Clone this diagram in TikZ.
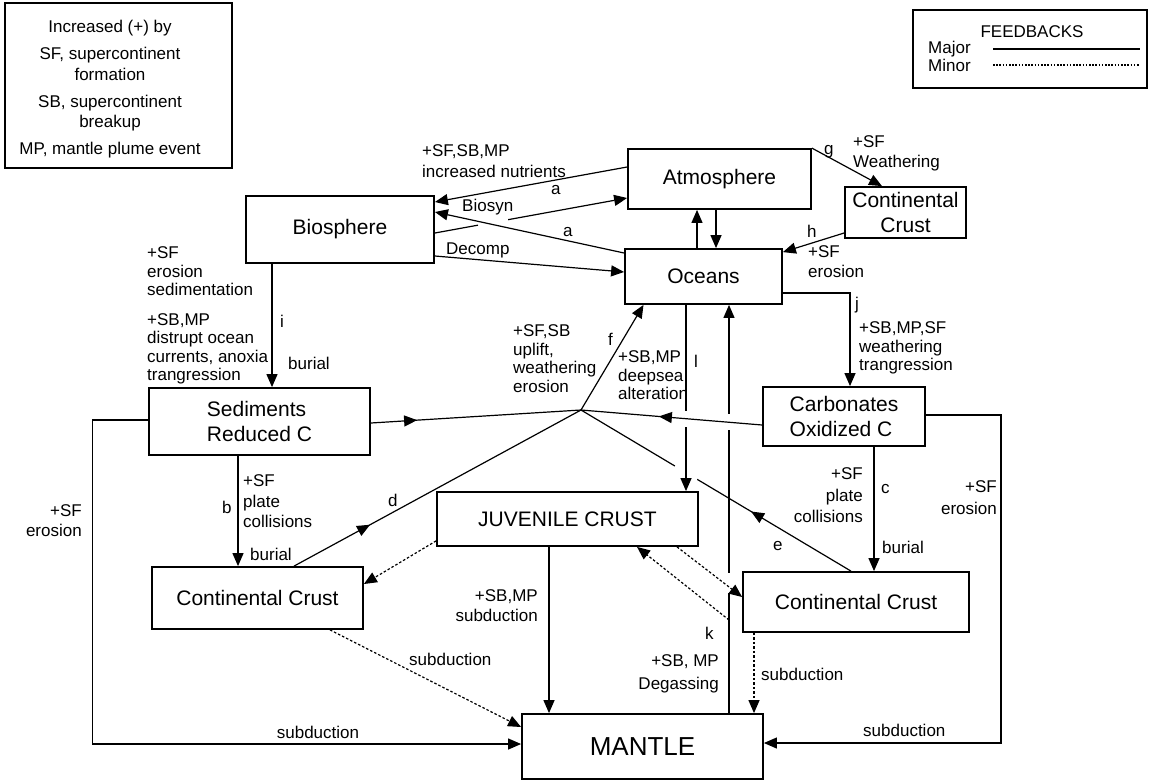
\documentclass[tikz,border=0pt]{standalone}
\usepackage{fontspec}
\setmainfont{Liberation Sans}
\usetikzlibrary{arrows.meta,decorations.markings,calc}
\begin{document}
\begin{tikzpicture}[x=1pt,y=-1pt,
  cbox/.style={draw, line width=1.8pt, inner sep=0pt, align=center, font=\fontsize{21}{25}\selectfont},
  conn/.style={line width=1.2pt, -{Triangle[length=13pt,width=11pt]}},
  majorline/.style={line width=1.2pt},
  minorline/.style={line width=1.2pt, dash pattern=on 2.5pt off 2pt},
  lbl/.style={inner sep=0pt, font=\fontsize{17}{18.5}\selectfont},
  midarrow/.style={postaction={decorate}, decoration={markings, mark=at position #1 with {\arrow{Triangle[length=13pt,width=11pt]}}}},
  gapw/.style={white, line width=4pt}
]
\useasboundingbox (0,0) rectangle (1150,782);
\fill[white] (0,0) rectangle (1150,782);

% legends
\node[draw, line width=1.6pt, minimum width=227pt, minimum height=165pt, inner sep=0pt] (legL) at (118.5,85.5) {};
\node[lbl, anchor=north, align=center, font=\fontsize{17}{20.5}\selectfont] (legLtxt) at (110,20.4)
  {Increased (+) by\\[6.5pt]SF, supercontinent\\formation\\[6.5pt]SB, supercontinent\\breakup\\[6.5pt]MP, mantle plume event};

\node[draw, line width=1.6pt, minimum width=234pt, minimum height=78pt, inner sep=0pt] (legR) at (1030,49) {};
\node[lbl, anchor=base] (fb) at (1032,37) {FEEDBACKS};
\node[lbl, anchor=base west] (maj) at (928,53) {Major};
\node[lbl, anchor=base west] (mnr) at (928,71) {Minor};
\coordinate (maj1) at (993,49); \coordinate (maj2) at (1140,49);
\coordinate (mnr1) at (993,65); \coordinate (mnr2) at (1140,65);
\draw[majorline] (maj1) -- (maj2);
\draw[line width=1.2pt, dash pattern=on 1.6pt off 1.6pt] (mnr1) -- (mnr2);

% boxes
\node[cbox, minimum width=183pt, minimum height=60pt] (atm) at (719.5,179) {Atmosphere};
\node[cbox, minimum width=157pt, minimum height=55pt] (oce) at (703.5,276.5) {Oceans};
\node[cbox, minimum width=121pt, minimum height=51pt] (cc0) at (905.5,212.5) {Continental\\Crust};
\node[cbox, minimum width=188pt, minimum height=67pt] (bio) at (340,229.5) {Biosphere};
\node[cbox, minimum width=221pt, minimum height=67pt, align=left] (sed) at (259.5,421.5) {Sediments\\Reduced C};
\node[cbox, minimum width=162pt, minimum height=59pt, align=left] (carb) at (844,416.5) {Carbonates\\Oxidized C};
\node[cbox, minimum width=211pt, minimum height=62pt] (ccl) at (257.5,598) {Continental Crust};
\node[cbox, minimum width=261pt, minimum height=54pt] (juv) at (567.5,519) {JUVENILE CRUST};
\node[cbox, minimum width=226pt, minimum height=60pt] (ccr) at (856,602) {Continental Crust};
\node[cbox, minimum width=241pt, minimum height=65pt, font=\fontsize{26}{30}\selectfont] (man) at (642.5,746.5) {MANTLE};
\coordinate (C) at (581,410);
\coordinate (kdeg) at (729,620);

% top connectors
\draw[conn] ([yshift=12pt]atm.west) -- ([yshift=27.5pt]bio.east);
\draw[conn] ([yshift=-3.5pt]bio.east) coordinate (bs1) -- ([yshift=-19pt]atm.west) coordinate (bs2);
\draw[gapw] ($(bs1)!0.225!(bs2)$) -- ($(bs1)!0.38!(bs2)$);
\draw[conn] ([yshift=23.5pt]oce.west) -- ([yshift=17.5pt]bio.east);
\draw[conn] ([yshift=-26.5pt]bio.east) -- ([yshift=4.5pt]oce.west);
\draw[conn] ([xshift=-6.5pt]oce.north) -- ([xshift=-22.5pt]atm.south);
\draw[conn] ([xshift=-3.5pt]atm.south) -- ([xshift=12.5pt]oce.north);
\draw[conn] (atm.north east) -- ([xshift=-23.5pt]cc0.north);
\draw[conn] ([yshift=-20.5pt]cc0.west) -- ([yshift=-4pt]oce.north east);
\draw[conn] ([yshift=-16.5pt]oce.east) -| ([xshift=6pt]carb.north);

% central star
\draw[majorline, midarrow=0.37] ([xshift=-5pt]ccr.north) coordinate (e1) -- (C);
\draw[gapw] ($(e1)!0.57!(C)$) -- ($(e1)!0.652!(C)$);
\draw[conn] ([xshift=-17.5pt]oce.south) coordinate (l1) -- ([xshift=118.5pt]juv.north) coordinate (l2);
\draw[gapw] ($(l1)!0.569!(l2)$) -- ($(l1)!0.654!(l2)$);
\draw[conn] ([xshift=86.5pt]man.north) coordinate (k1) -- (k1 |- oce.south) coordinate (k2);
\draw[gapw] ($(k1)!0.693!(k2)$) -- ($(k1)!0.732!(k2)$);
\draw[gapw] ($(k1)!0.295!(k2)$) -- ($(k1)!0.344!(k2)$);
\draw[majorline, midarrow=0.57] ([yshift=-8.5pt]carb.west) -- (C);
\draw[majorline, midarrow=0.22] ([yshift=-1.5pt]sed.east) -- (C);
\draw[conn] (C) -- ([xshift=-60pt]oce.south);
\draw[majorline, midarrow=0.265] ([xshift=36.5pt]ccl.north) -- (C);

% verticals
\draw[conn] ([xshift=-68pt]bio.south) coordinate (i1) -- (i1 |- sed.north);
\draw[conn] ([xshift=-21.5pt]sed.south) coordinate (b1) -- (b1 |- ccl.north);
\draw[conn] ([xshift=30pt]carb.south) coordinate (c1) -- (c1 |- ccr.north);
\draw[conn] ([yshift=1.5pt]sed.west) -- ++(-56,0) |- ([yshift=2.5pt]man.west);
\draw[conn] ([yshift=1.5pt]carb.east) -- ++(75,0) |- ([yshift=3.5pt]man.east);
\draw[conn] ([xshift=-18.5pt]juv.south) coordinate (jm) -- (jm |- man.north);

% minor feedbacks
\draw[conn, minorline] ([xshift=-102pt]ccr.south) coordinate (cm) -- (cm |- man.north);
\draw[conn, minorline] ([xshift=72.5pt]ccl.south) -- ([yshift=19.5pt]man.west);
\draw[conn, minorline] ([yshift=6pt]juv.south west) -- ([yshift=14pt]ccl.east);
\draw[conn, minorline] ([xshift=109.5pt]juv.south) -- ([yshift=5pt]ccr.west);
\draw[conn, minorline] (kdeg) -- ([xshift=69.5pt]juv.south);

% labels
\node[lbl, anchor=north west, align=left] (t1) at (422,144.7) {+SF,SB,MP\\[2pt]increased nutrients};
\node[lbl, anchor=base west] (ta1) at (551,194) {a};
\node[lbl, anchor=base west] (tbs) at (462,211) {Biosyn};
\node[lbl, anchor=base west] (ta2) at (563,236) {a};
\node[lbl, anchor=base west] (tdc) at (446,254) {Decomp};
\node[lbl, anchor=base west] (tg) at (824,154) {g};
\node[lbl, anchor=north west, align=left] (tgw) at (853,135.7) {+SF\\[1.5pt]Weathering};
\node[lbl, anchor=base west] (th) at (807,237) {h};
\node[lbl, anchor=north west, align=left] (the) at (808,245.7) {+SF\\[1.5pt]erosion};
\node[lbl, anchor=base west] (tj) at (855,309) {j};
\node[lbl, anchor=north west, align=left] (tjw) at (859,321.7) {+SB,MP,SF\\weathering\\trangression};
\node[lbl, anchor=north west, align=left] (tiw) at (147,246.7)
  {+SF\\erosion\\sedimentation\\[11pt]+SB,MP\\distrupt ocean\\currents, anoxia\\trangression};
\node[lbl, anchor=base west] (ti) at (280,327) {i};
\node[lbl, anchor=base west] (tib) at (288,369) {burial};
\node[lbl, anchor=north west, align=left] (tfw) at (513,324.7) {+SF,SB\\uplift,\\weathering\\erosion};
\node[lbl, anchor=base west] (tf) at (608,345) {f};
\node[lbl, anchor=north west, align=left] (tlw) at (618,350.7) {+SB,MP\\deepsea\\alteration};
\node[lbl, anchor=base west] (tl) at (694,367) {l};
\node[lbl, anchor=north west, align=left] (tbw) at (243,474.7) {+SF\\[2pt]plate\\[2pt]collisions};
\node[lbl, anchor=base west] (tb) at (222,513) {b};
\node[lbl, anchor=base west] (tbb) at (250,560) {burial};
\node[lbl, anchor=base west] (td) at (388,506) {d};
\node[lbl, anchor=north east, align=right] (tle) at (82,504.7) {+SF\\[1.5pt]erosion};
\node[lbl, anchor=base] (tls) at (318,738) {subduction};
\node[lbl, anchor=base west] (tcs) at (409,665) {subduction};
\node[lbl, anchor=north east, align=right] (tjs) at (538,589.7) {+SB,MP\\[1.5pt]subduction};
\node[lbl, anchor=base west] (tk) at (705,639) {k};
\node[lbl, anchor=north east, align=right] (tkd) at (719,654.7) {+SB, MP\\[4pt]Degassing};
\node[lbl, anchor=base west] (trs) at (761,680) {subduction};
\node[lbl, anchor=base west] (te) at (773,550) {e};
\node[lbl, anchor=north east, align=right] (tcw) at (863,467.7) {+SF\\[3pt]plate\\[3pt]collisions};
\node[lbl, anchor=base west] (tc) at (881,493) {c};
\node[lbl, anchor=base west] (tcb) at (882,553) {burial};
\node[lbl, anchor=north east, align=right] (tre) at (997,480.7) {+SF\\[3.5pt]erosion};
\node[lbl, anchor=base west] (trb) at (863,736) {subduction};
\end{tikzpicture}
\end{document}
